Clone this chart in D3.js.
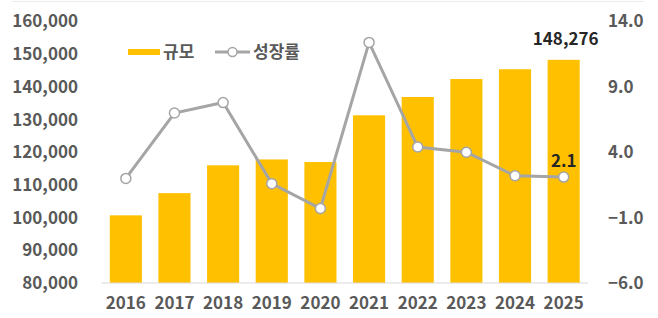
<!DOCTYPE html>
<html>
<head>
<meta charset="utf-8">
<script src="https://cdn.jsdelivr.net/npm/d3@7"></script>
<style>
  body { margin: 0; background: #fff; }
  svg text { font-family: "Noto Sans CJK KR", "Noto Sans", sans-serif; }
</style>
</head>
<body>
<svg width="658" height="318"></svg>
<script>
// data
const years = ['2016', '2017', '2018', '2019', '2020', '2021', '2022', '2023', '2024', '2025']
const sizes = [100700, 107500, 116000, 117800, 117000, 131300, 136900, 142400, 145400, 148276]
const growth = [2.0, 7.0, 7.8, 1.6, -0.3, 12.4, 4.4, 4.0, 2.2, 2.1]
const leftTicks = [80000, 90000, 100000, 110000, 120000, 130000, 140000, 150000, 160000]
const rightTicks = [-6, -1, 4, 9, 14]

const svg = d3.select('svg')
const width = +svg.attr('width')
const height = +svg.attr('height')

const margin = { top: 21.5, right: 70, bottom: 35, left: 101.5 }
const innerBottom = height - margin.bottom
const fs = 17

const textColor = '#595959'
const barColor = '#FFC000'
const lineColor = '#A5A5A5'

// faint frame line on top
svg.append('line')
  .attr('x1', 12).attr('x2', 644)
  .attr('y1', 1.5).attr('y2', 1.5)
  .attr('stroke', '#ececec')

const xScale = d3.scaleBand()
  .domain(years)
  .range([margin.left, 588])
  .paddingInner(0.34)
  .paddingOuter(0.17)

const yLeft = d3.scaleLinear()
  .domain([80000, 160000])
  .range([innerBottom, margin.top])

const yRight = d3.scaleLinear()
  .domain([-6, 14])
  .range([innerBottom, margin.top])

// bars
svg.append('g').selectAll('rect').data(sizes)
  .enter().append('rect')
    .attr('x', (d, i) => xScale(years[i]))
    .attr('y', d => yLeft(d))
    .attr('width', xScale.bandwidth())
    .attr('height', d => innerBottom - yLeft(d))
    .attr('fill', barColor)

// baseline
svg.append('line')
  .attr('x1', margin.left).attr('x2', 588)
  .attr('y1', innerBottom).attr('y2', innerBottom)
  .attr('stroke', '#d9d9d9')
  .attr('stroke-width', 1)

// left axis
const leftAxis = svg.append('g')
  .attr('transform', 'translate(78,0)')
  .call(d3.axisLeft(yLeft).tickValues(leftTicks).tickFormat(d3.format(',')).tickSize(0).tickPadding(0))
leftAxis.select('.domain').remove()
leftAxis.selectAll('text')
  .attr('fill', textColor)
  .attr('font-size', fs)
  .attr('font-weight', 'bold')

// right axis
const rightAxis = svg.append('g')
  .attr('transform', 'translate(608,0)')
  .call(d3.axisRight(yRight).tickValues(rightTicks).tickFormat(d3.format('.1f')).tickSize(0).tickPadding(0))
rightAxis.select('.domain').remove()
rightAxis.selectAll('text')
  .attr('fill', textColor)
  .attr('font-size', fs)
  .attr('font-weight', 'bold')

// bottom axis
const bottomAxis = svg.append('g')
  .attr('transform', `translate(0,${innerBottom})`)
  .call(d3.axisBottom(xScale).tickSize(0).tickPadding(14))
bottomAxis.select('.domain').remove()
bottomAxis.selectAll('text')
  .attr('fill', textColor)
  .attr('font-size', fs)
  .attr('font-weight', 'bold')

// growth line
const line = d3.line()
  .x((d, i) => xScale(years[i]) + xScale.bandwidth() / 2)
  .y(d => yRight(d))

svg.append('path')
  .datum(growth)
  .attr('d', line)
  .attr('fill', 'none')
  .attr('stroke', lineColor)
  .attr('stroke-width', 3)

svg.append('g').selectAll('circle').data(growth)
  .enter().append('circle')
    .attr('cx', (d, i) => xScale(years[i]) + xScale.bandwidth() / 2)
    .attr('cy', d => yRight(d))
    .attr('r', 5)
    .attr('fill', '#fff')
    .attr('stroke', lineColor)
    .attr('stroke-width', 1.5)

// value labels on last item
const last = years.length - 1
const lastX = xScale(years[last]) + xScale.bandwidth() / 2
svg.append('text')
  .attr('x', lastX + 2)
  .attr('y', yLeft(sizes[last]) - 15)
  .attr('text-anchor', 'middle')
  .attr('font-size', fs)
  .attr('font-weight', 'bold')
  .attr('fill', '#262626')
  .text(d3.format(',')(sizes[last]))

svg.append('text')
  .attr('x', lastX)
  .attr('y', yRight(growth[last]) - 10)
  .attr('text-anchor', 'middle')
  .attr('font-size', fs)
  .attr('font-weight', 'bold')
  .attr('fill', '#262626')
  .text(growth[last].toFixed(1))

// legend
const legend = svg.append('g').attr('transform', 'translate(128,52)')
legend.append('rect')
  .attr('x', 0).attr('y', -3)
  .attr('width', 32).attr('height', 6)
  .attr('fill', barColor)
legend.append('text')
  .attr('x', 35).attr('y', 0).attr('dy', '0.35em')
  .attr('font-size', fs).attr('font-weight', 'bold')
  .attr('fill', textColor)
  .text('규모')
legend.append('line')
  .attr('x1', 87).attr('x2', 122)
  .attr('y1', 0).attr('y2', 0)
  .attr('stroke', lineColor).attr('stroke-width', 3)
legend.append('circle')
  .attr('cx', 104.5).attr('cy', 0).attr('r', 4.5)
  .attr('fill', '#fff').attr('stroke', lineColor).attr('stroke-width', 1.5)
legend.append('text')
  .attr('x', 125).attr('y', 0).attr('dy', '0.35em')
  .attr('font-size', fs).attr('font-weight', 'bold')
  .attr('fill', textColor)
  .text('성장률')
</script>
</body>
</html>
